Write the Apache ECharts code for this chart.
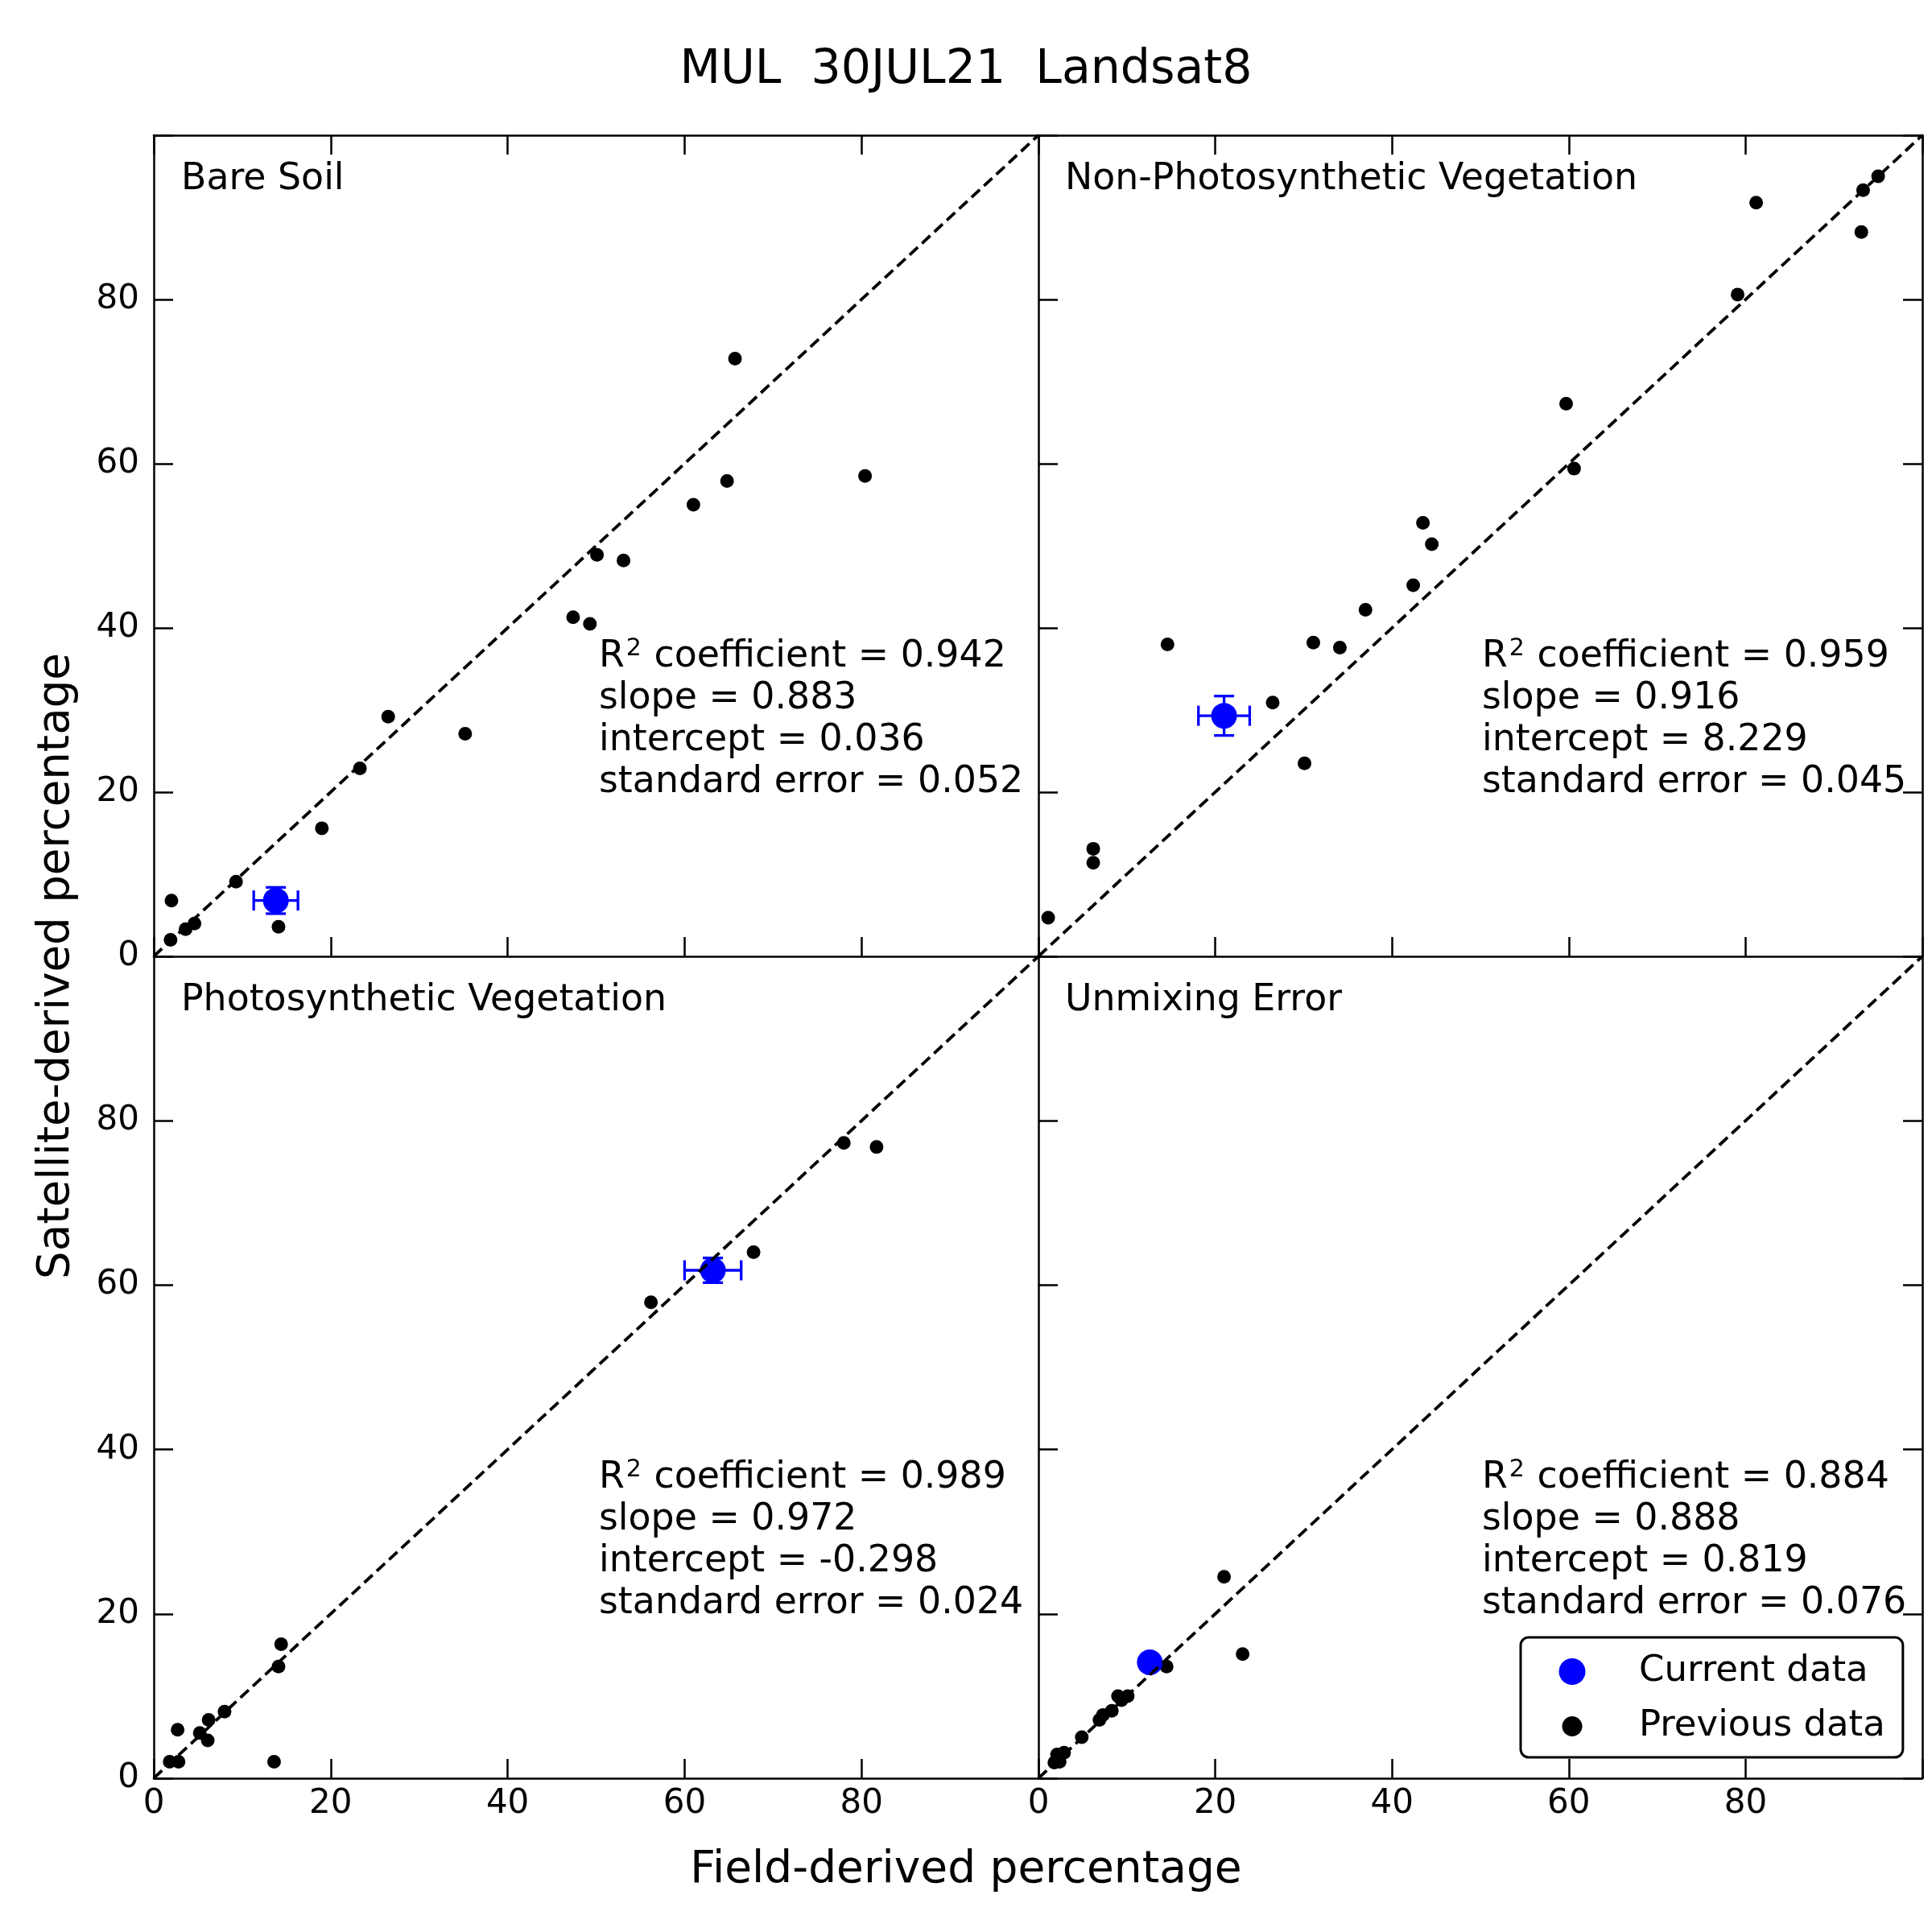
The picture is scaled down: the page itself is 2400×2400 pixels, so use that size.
<!DOCTYPE html>
<html lang="en">
<head>
    <meta charset="UTF-8">
    <title>MUL 30JUL21 Landsat8</title>
    <script src="https://cdn.jsdelivr.net/npm/echarts@6/dist/echarts.min.js"></script>
    <style>
        html, body { margin: 0; padding: 0; background: #fff; }
        #main { width: 2400px; height: 2400px; }
    </style>
</head>
<body>
<div id="main"></div>
<script>
    // ---- data (percent) ----
    var axisTicks = [0, 20, 40, 60, 80, 100];
    var diagLine = [[0, 0], [100, 100]];

    // Bare Soil
    var bsPrevX = [65.7, 80.4, 64.8, 61.0, 50.1, 53.1, 47.4, 49.3, 26.5, 35.2, 23.3, 19.0, 9.3, 2.0, 14.1, 4.6, 3.6, 1.9];
    var bsPrevY = [72.8, 58.5, 57.9, 55.0, 48.9, 48.2, 41.3, 40.5, 29.2, 27.1, 22.9, 15.6, 9.1, 6.8, 3.6, 4.0, 3.3, 2.0];
    var bsCurrent = [13.8, 6.8];
    var bsError = [2.5, 1.6];
    var bsStats = ['0.942', '0.883', '0.036', '0.052'];

    // Non-Photosynthetic Vegetation
    var npvPrevX = [95.0, 93.3, 81.2, 93.1, 79.1, 59.7, 60.6, 43.5, 44.5, 42.4, 37.0, 14.6, 31.1, 34.1, 26.5, 30.1, 6.2, 6.2, 1.1];
    var npvPrevY = [95.0, 93.3, 91.8, 88.2, 80.6, 67.3, 59.4, 52.8, 50.2, 45.2, 42.2, 38.0, 38.2, 37.6, 30.9, 23.5, 13.1, 11.4, 4.7];
    var npvCurrent = [21.0, 29.3];
    var npvError = [2.9, 2.4];
    var npvStats = ['0.959', '0.916', '8.229', '0.045'];

    // Photosynthetic Vegetation
    var pvPrevX = [78.0, 81.7, 67.8, 56.2, 14.4, 14.1, 8.0, 6.2, 2.7, 5.2, 6.1, 13.6, 1.8, 2.8];
    var pvPrevY = [77.3, 76.8, 64.0, 57.9, 16.3, 13.6, 8.1, 7.1, 5.9, 5.5, 4.6, 2.0, 2.0, 2.0];
    var pvCurrent = [63.2, 61.8];
    var pvError = [3.2, 1.5];
    var pvStats = ['0.989', '0.972', '-0.298', '0.024'];

    // Unmixing Error
    var uePrevX = [21.0, 23.1, 14.5, 9.0, 10.1, 9.4, 8.3, 7.3, 6.9, 4.9, 2.9, 2.1, 2.4, 1.8];
    var uePrevY = [24.5, 15.1, 13.6, 10.0, 10.0, 9.5, 8.2, 7.7, 7.1, 5.0, 3.1, 2.9, 2.0, 1.9];
    var ueCurrent = [12.6, 14.1];
    var ueError = [0, 0];
    var ueStats = ['0.884', '0.888', '0.819', '0.076'];

    var panels = [
        {name: 'Bare Soil', px: bsPrevX, py: bsPrevY, cur: bsCurrent, err: bsError, stats: bsStats},
        {name: 'Non-Photosynthetic Vegetation', px: npvPrevX, py: npvPrevY, cur: npvCurrent, err: npvError, stats: npvStats},
        {name: 'Photosynthetic Vegetation', px: pvPrevX, py: pvPrevY, cur: pvCurrent, err: pvError, stats: pvStats},
        {name: 'Unmixing Error', px: uePrevX, py: uePrevY, cur: ueCurrent, err: ueError, stats: ueStats}
    ];

    // ---- layout ----
    var FONT = 'DejaVu Sans';
    var boxes = [
        {left: 191, top: 168, width: 1099, height: 1020},
        {left: 1290, top: 168, width: 1098, height: 1020},
        {left: 191, top: 1188, width: 1099, height: 1021},
        {left: 1290, top: 1188, width: 1098, height: 1021}
    ];

    function makeAxis(gi, pos, showLabel, isX) {
        return {
            type: 'value', gridIndex: gi, position: pos,
            min: axisTicks[0], max: axisTicks[axisTicks.length - 1], interval: axisTicks[1] - axisTicks[0],
            axisLine: {show: true, onZero: false, lineStyle: {color: '#000', width: 2.5}},
            axisTick: {show: true, inside: true, length: 24, lineStyle: {color: '#000', width: 2.5}},
            axisLabel: {
                show: showLabel, margin: isX ? 11 : 18, fontSize: 42, color: '#000', fontFamily: FONT,
                formatter: function (v) { return v === 100 ? '' : String(v); }
            },
            splitLine: {show: false}
        };
    }

    var xAxes = [], yAxes = [], series = [], graphics = [];

    panels.forEach(function (p, i) {
        var isTop = i < 2, isLeft = i % 2 === 0;
        var xi = xAxes.length;
        xAxes.push(makeAxis(i, 'bottom', !isTop, true));
        if (isTop) xAxes.push(makeAxis(i, 'top', false, true));
        var yi = yAxes.length;
        yAxes.push(makeAxis(i, 'left', isLeft, false));
        if (!isLeft) yAxes.push(makeAxis(i, 'right', false, false));

        series.push({
            type: 'line', xAxisIndex: xi, yAxisIndex: yi, data: diagLine,
            symbol: 'none', silent: true,
            lineStyle: {color: '#000', width: 3.8, type: [14, 7]}
        });
        series.push({
            name: 'Previous data', type: 'scatter', xAxisIndex: xi, yAxisIndex: yi,
            data: p.px.map(function (x, k) { return [x, p.py[k]]; }),
            symbolSize: 17, itemStyle: {color: '#000', opacity: 1}
        });
        series.push({
            type: 'custom', xAxisIndex: xi, yAxisIndex: yi, silent: true,
            data: [[p.cur[0], p.cur[1], p.err[0], p.err[1]]],
            renderItem: function (params, api) {
                var x = api.value(0), y = api.value(1), ex = api.value(2), ey = api.value(3);
                if (!ex && !ey) return {type: 'group', children: []};
                var l = api.coord([x - ex, y]), r = api.coord([x + ex, y]);
                var t = api.coord([x, y + ey]), b = api.coord([x, y - ey]);
                var cap = 12.5, st = {stroke: '#0000ff', lineWidth: 3.3};
                function ln(x1, y1, x2, y2) { return {type: 'line', shape: {x1: x1, y1: y1, x2: x2, y2: y2}, style: st}; }
                return {
                    type: 'group', children: [
                        ln(l[0], l[1], r[0], r[1]),
                        ln(t[0], t[1], b[0], b[1]),
                        ln(l[0], l[1] - cap, l[0], l[1] + cap),
                        ln(r[0], r[1] - cap, r[0], r[1] + cap),
                        ln(t[0] - cap, t[1], t[0] + cap, t[1]),
                        ln(b[0] - cap, b[1], b[0] + cap, b[1])
                    ]
                };
            }
        });
        series.push({
            name: 'Current data', type: 'scatter', xAxisIndex: xi, yAxisIndex: yi,
            data: [[p.cur[0], p.cur[1]]],
            symbolSize: 32, itemStyle: {color: '#0000ff', opacity: 1}
        });

        // panel label + statistics
        var lx = isLeft ? 225 : 1323;
        graphics.push({type: 'text', x: lx, y: isTop ? 223 : 1243,
            style: {text: p.name, fontSize: 45.8, fontFamily: FONT, fill: '#000', align: 'left', verticalAlign: 'middle'}});
        var sx = isLeft ? 744 : 1841, sy = isTop ? 816 : 1836;
        var lines = [
            '{r|R}{s|2}{r| coefficient = ' + p.stats[0] + '}',
            '{r|slope = ' + p.stats[1] + '}',
            '{r|intercept = ' + p.stats[2] + '}',
            '{r|standard error = ' + p.stats[3] + '}'
        ];
        lines.forEach(function (t, k) {
            graphics.push({type: 'text', x: sx, y: sy + k * 52,
                style: {
                    text: t, align: 'left', verticalAlign: 'middle', fill: '#000',
                    rich: {
                        r: {fontSize: 45.8, fontFamily: FONT, fill: '#000'},
                        s: {fontSize: 30, fontFamily: FONT, fill: '#000', padding: [0, 1, 20, 2]}
                    }
                }});
        });
    });

    graphics.push({type: 'text', x: 1200, y: 88,
        style: {text: 'MUL  30JUL21  Landsat8', fontSize: 58.5, fontFamily: FONT, fill: '#000', align: 'center', verticalAlign: 'middle'}});
    graphics.push({type: 'text', x: 1200, y: 2324,
        style: {text: 'Field-derived percentage', fontSize: 55, fontFamily: FONT, fill: '#000', align: 'center', verticalAlign: 'middle'}});
    graphics.push({type: 'text', x: 71, y: 1200, rotation: Math.PI / 2,
        style: {text: 'Satellite-derived percentage', fontSize: 54.6, fontFamily: FONT, fill: '#000', align: 'center', verticalAlign: 'middle'}});

    // legend icons: circle inside a 122x33 box so the label starts further right
    var blueIcon = 'path://M0,0 M122,33 M27.5,16.5 A16.5,16.5 0 1,1 60.5,16.5 A16.5,16.5 0 1,1 27.5,16.5 Z';
    var blackIcon = 'path://M0,0 M122,33 M31.5,16.5 A12.5,12.5 0 1,1 56.5,16.5 A12.5,12.5 0 1,1 31.5,16.5 Z';

    var myChart = echarts.init(document.getElementById('main'));
    var option = {
        backgroundColor: '#fff',
        animation: false,
        grid: boxes.map(function (b) { return {left: b.left, top: b.top, width: b.width, height: b.height, containLabel: false}; }),
        xAxis: xAxes,
        yAxis: yAxes,
        legend: {
            data: [{name: 'Current data', icon: blueIcon}, {name: 'Previous data', icon: blackIcon}],
            orient: 'vertical', left: 1889, top: 2034,
            itemWidth: 122, itemHeight: 33, itemGap: 23,
            padding: [20, 22, 16, 20],
            backgroundColor: '#fff', borderColor: '#000', borderWidth: 3, borderRadius: 10,
            selectedMode: false,
            textStyle: {fontSize: 45, fontFamily: FONT, color: '#000', lineHeight: 45}
        },
        graphic: graphics,
        series: series
    };
    myChart.setOption(option);
</script>
</body>
</html>
